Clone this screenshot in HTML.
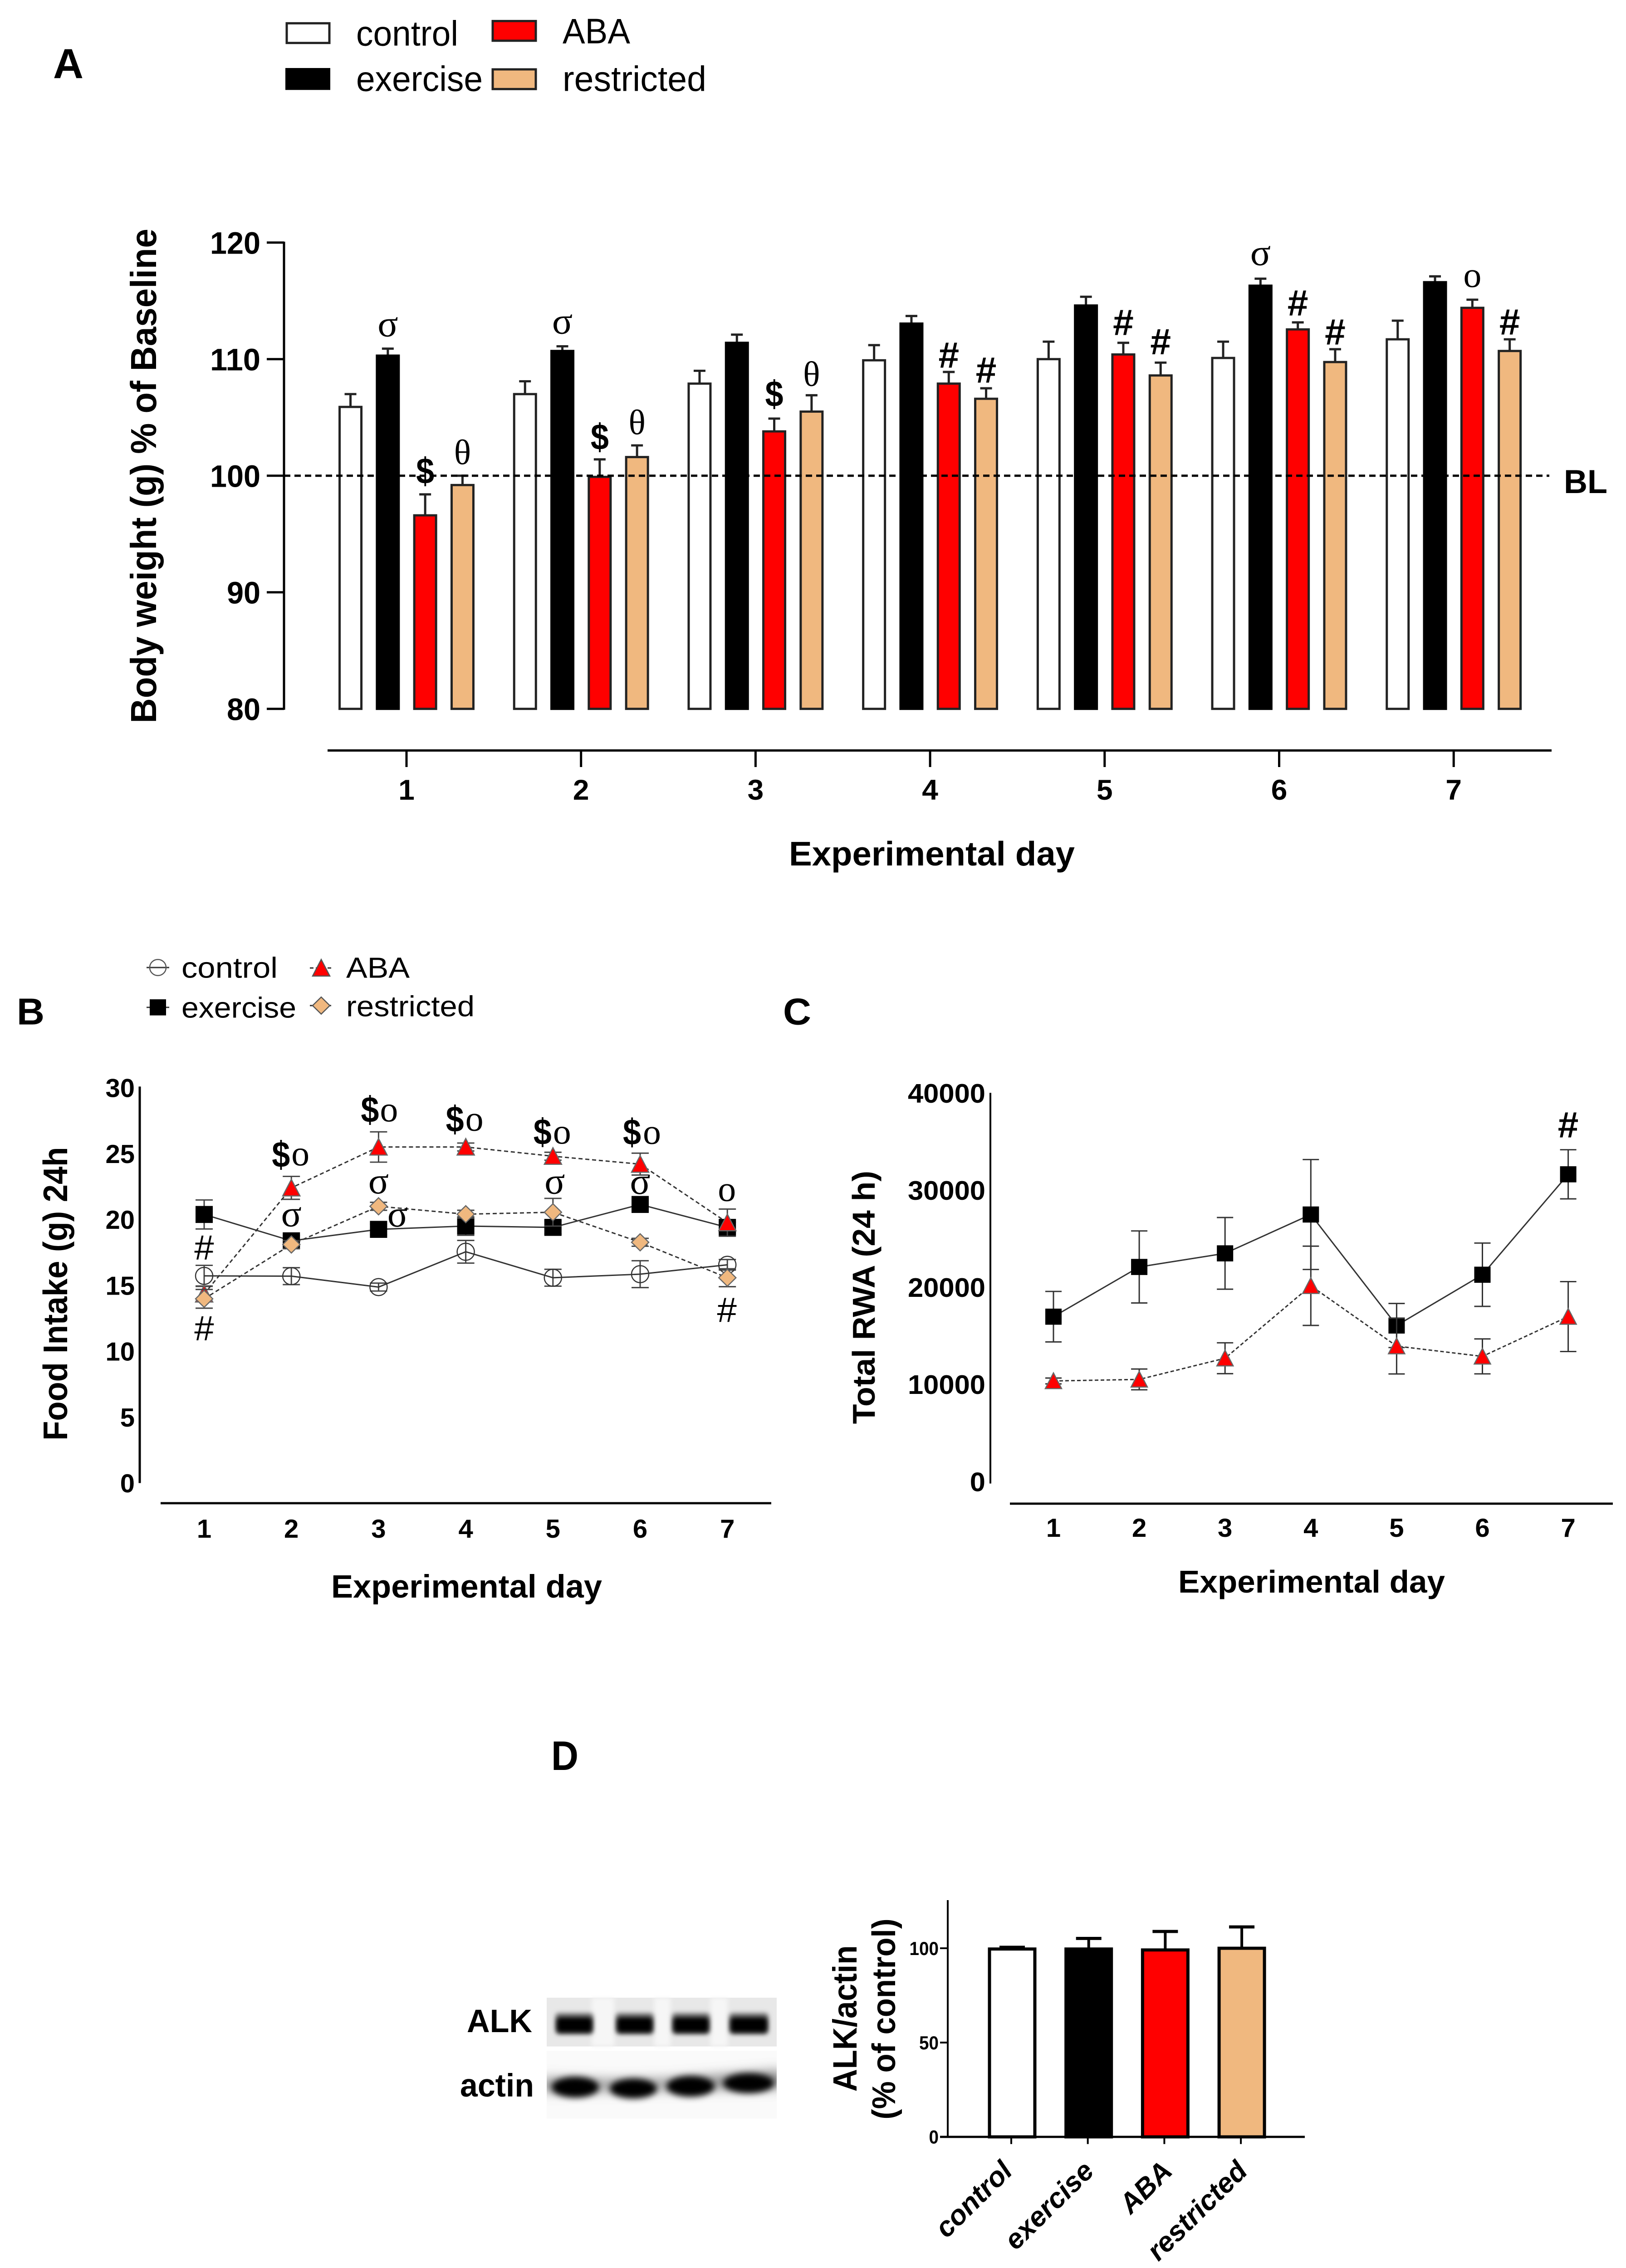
<!DOCTYPE html>
<html lang="en">
<head>
<meta charset="utf-8">
<title>Body weight, food intake, RWA and ALK figure</title>
<style>
html,body{margin:0;padding:0;background:#fff;width:100vw;height:100vh;overflow:hidden;}
svg{display:block;width:100vw;height:100vh;}
text{font-family:"Liberation Sans",sans-serif;fill:#000;}
.b{font-weight:bold;}
</style>
</head>
<body>
<svg id="figure" xmlns="http://www.w3.org/2000/svg" viewBox="0 0 3584 5068" preserveAspectRatio="none">
<defs>
<filter id="blot-blur-a" x="-30%" y="-80%" width="160%" height="260%"><feGaussianBlur stdDeviation="5"/></filter>
<filter id="blot-blur-b" x="-30%" y="-80%" width="160%" height="260%"><feGaussianBlur stdDeviation="7"/></filter>
<filter id="blot-blur-c" x="-30%" y="-100%" width="160%" height="300%"><feGaussianBlur stdDeviation="14"/></filter>
</defs>
<rect x="0" y="0" width="3584" height="5068" fill="#fff"/>

<!-- Panel A static -->
<g id="panel-a">
<text x="117" y="175" class="b" font-size="94" textLength="67" lengthAdjust="spacingAndGlyphs">A</text>
<g>
<rect x="632" y="52" width="94" height="44" fill="#fff" stroke="#222" stroke-width="5"/>
<text x="785" y="102" font-size="79" textLength="225" lengthAdjust="spacingAndGlyphs">control</text>
<rect x="629" y="152" width="99" height="49" fill="#000"/>
<text x="785" y="203" font-size="79" textLength="279" lengthAdjust="spacingAndGlyphs">exercise</text>
<rect x="1086" y="47" width="95" height="44" fill="#f00" stroke="#222" stroke-width="5"/>
<text x="1240" y="97" font-size="79" textLength="149" lengthAdjust="spacingAndGlyphs">ABA</text>
<rect x="1086" y="155" width="95" height="44" fill="#F0B87F" stroke="#222" stroke-width="5"/>
<text x="1240" y="203" font-size="79" textLength="317" lengthAdjust="spacingAndGlyphs">restricted</text>
</g>
<text transform="translate(344 1616) rotate(-90)" class="b" font-size="80" textLength="1105" lengthAdjust="spacingAndGlyphs">Body weight (g) % of Baseline</text>
<text x="1739" y="1934" class="b" font-size="76" textLength="630" lengthAdjust="spacingAndGlyphs">Experimental day</text>
<text x="3447" y="1102" class="b" font-size="74" textLength="96" lengthAdjust="spacingAndGlyphs">BL</text>
</g>

<!-- Panel B static -->
<g id="panel-b">
<text x="37" y="2289" class="b" font-size="84" textLength="61" lengthAdjust="spacingAndGlyphs">B</text>
<text x="400" y="2185" font-size="65" textLength="212" lengthAdjust="spacingAndGlyphs">control</text>
<text x="400" y="2274" font-size="65" textLength="253" lengthAdjust="spacingAndGlyphs">exercise</text>
<text x="763" y="2185" font-size="65" textLength="140" lengthAdjust="spacingAndGlyphs">ABA</text>
<text x="763" y="2271" font-size="65" textLength="283" lengthAdjust="spacingAndGlyphs">restricted</text>
<text transform="translate(148 3219) rotate(-90)" class="b" font-size="75" textLength="656" lengthAdjust="spacingAndGlyphs">Food Intake (g) 24h</text>
<text x="730" y="3570" class="b" font-size="72" textLength="597" lengthAdjust="spacingAndGlyphs">Experimental day</text>
</g>

<!-- Panel C static -->
<g id="panel-c">
<text x="1726" y="2289" class="b" font-size="84" textLength="62" lengthAdjust="spacingAndGlyphs">C</text>
<text transform="translate(1928 3182) rotate(-90)" class="b" font-size="70" textLength="566" lengthAdjust="spacingAndGlyphs">Total RWA (24 h)</text>
<text x="2597" y="3559" class="b" font-size="71" textLength="588" lengthAdjust="spacingAndGlyphs">Experimental day</text>
</g>

<!-- Panel D static -->
<g id="panel-d">
<text x="1215" y="3955" class="b" font-size="92" textLength="60" lengthAdjust="spacingAndGlyphs">D</text>
<text x="1029" y="4541" class="b" font-size="72" textLength="144" lengthAdjust="spacingAndGlyphs">ALK</text>
<text x="1014" y="4685" class="b" font-size="72" textLength="163" lengthAdjust="spacingAndGlyphs">actin</text>
<g>
<rect x="1205" y="4464" width="507" height="109" fill="#e8e8e8"/>
<rect x="1304" y="4464" width="50" height="109" fill="#f6f6f6" filter="url(#blot-blur-a)"/>
<rect x="1442" y="4464" width="36" height="109" fill="#f6f6f6" filter="url(#blot-blur-a)"/>
<rect x="1566" y="4464" width="38" height="109" fill="#f6f6f6" filter="url(#blot-blur-a)"/>
<rect x="1224" y="4498" width="84" height="48" rx="8" fill="#777" filter="url(#blot-blur-a)"/>
<rect x="1357" y="4498" width="84" height="48" rx="8" fill="#777" filter="url(#blot-blur-a)"/>
<rect x="1481" y="4498" width="84" height="48" rx="8" fill="#777" filter="url(#blot-blur-a)"/>
<rect x="1607" y="4498" width="87" height="48" rx="8" fill="#777" filter="url(#blot-blur-a)"/>
<rect x="1227" y="4508" width="78" height="34" rx="8" fill="#000" filter="url(#blot-blur-a)"/>
<rect x="1360" y="4508" width="78" height="34" rx="8" fill="#000" filter="url(#blot-blur-a)"/>
<rect x="1484" y="4508" width="78" height="34" rx="8" fill="#000" filter="url(#blot-blur-a)"/>
<rect x="1610" y="4508" width="81" height="34" rx="8" fill="#000" filter="url(#blot-blur-a)"/>
</g>
<g>
<rect x="1205" y="4583" width="507" height="151" fill="#fafafa"/>
<clipPath id="actin-clip"><rect x="1205" y="4583" width="507" height="151"/></clipPath>
<g clip-path="url(#actin-clip)">
<path d="M1195 4646 L1350 4650 L1470 4648 L1600 4638 L1725 4628 L1725 4664 L1195 4672 Z" fill="#777" filter="url(#blot-blur-c)"/>
<ellipse cx="1268" cy="4664" rx="52" ry="23" fill="#000" filter="url(#blot-blur-b)"/>
<ellipse cx="1396" cy="4667" rx="52" ry="22" fill="#000" filter="url(#blot-blur-b)"/>
<ellipse cx="1522" cy="4662" rx="53" ry="23" fill="#000" filter="url(#blot-blur-b)"/>
<ellipse cx="1650" cy="4655" rx="56" ry="22" fill="#000" filter="url(#blot-blur-b)"/>
</g>
</g>
<text transform="translate(1888 4674) rotate(-90)" class="b" font-size="74" textLength="327" lengthAdjust="spacingAndGlyphs">ALK/actin</text>
<text transform="translate(1973 4736) rotate(-90)" class="b" font-size="72" textLength="449" lengthAdjust="spacingAndGlyphs">(% of control)</text>
</g>

<script>
// ---------- Panel A data ----------
const daysA = ['1','2','3','4','5','6','7'];
const ticksA = [80,90,100,110,120];
const bwControl = [105.9,107.0,107.9,109.9,110.0,110.1,111.7];
const bwControlErr = [1.1,1.1,1.1,1.3,1.5,1.4,1.6];
const bwExercise = [110.3,110.7,111.4,113.05,114.6,116.3,116.6];
const bwExerciseErr = [0.6,0.4,0.7,0.65,0.75,0.6,0.5];
const bwAba = [96.6,99.9,103.8,107.9,110.4,112.55,114.4];
const bwAbaErr = [1.8,1.5,1.1,1.0,1.0,0.6,0.7];
const bwRestricted = [99.2,101.6,105.5,106.6,108.6,109.75,110.7];
const bwRestrictedErr = [0.8,1.0,1.4,0.9,1.1,1.1,1.0];
const baselineValue = 100;

// ---------- Panel B data ----------
const daysB = ['1','2','3','4','5','6','7'];
const ticksB = [0,5,10,15,20,25,30];
const foodControl = [15.72,15.7,14.87,17.55,15.58,15.85,16.56];
const foodControlErr = [0.8,0.64,0.3,0.86,0.64,1.02,0.4];
const foodExercise = [20.38,18.38,19.25,19.5,19.4,21.14,19.4];
const foodExerciseErr = [1.1,0.4,0.4,0.7,0.5,0.4,0.4];
const foodAba = [14.35,22.4,25.5,25.5,24.8,24.2,19.76];
const foodAbaErr = [0.6,0.87,1.15,0.3,0.3,0.83,1.03];
const foodRestricted = [13.98,18.1,21.0,20.4,20.55,18.27,15.58];
const foodRestrictedErr = [0.71,0.3,0.3,0.3,1.05,0.3,0.68];

// ---------- Panel C data ----------
const daysC = ['1','2','3','4','5','6','7'];
const ticksC = [0,10000,20000,30000,40000];
const rwaExercise = [17180,22300,23700,27700,16270,21500,31840];
const rwaExerciseErr = [2600,3710,3690,5660,2270,3260,2530];
const rwaAba = [10560,10720,12900,20360,14150,13090,17190];
const rwaAbaErr = [300,1070,1590,4080,2870,1800,3600];

// ---------- Panel D data ----------
const groupsD = ['control','exercise','ABA','restricted'];
const ticksD = [0,50,100];
const alkValues = [99.6,99.6,99.1,100];
const alkErr = [0.9,5.6,9.8,11.3];
const barFillsD = ['#fff','#000','#f00','#F0B87F'];

const SVGNS = 'http://www.w3.org/2000/svg';
const TAN = '#F0B87F';
const panelA = document.getElementById('panel-a');
const panelB = document.getElementById('panel-b');
const panelC = document.getElementById('panel-c');
const panelD = document.getElementById('panel-d');

function mk(parent, tag, attrs, txt) {
  const el = document.createElementNS(SVGNS, tag);
  for (const k in attrs) el.setAttribute(k, attrs[k]);
  if (txt !== undefined) el.textContent = txt;
  parent.appendChild(el);
  return el;
}
function shapeMarker(parent, type, cx, cy, r, fill, stroke, sw) {
  if (type === 'circle') return mk(parent, 'circle', {cx: cx, cy: cy, r: r, fill: fill, stroke: stroke, 'stroke-width': sw});
  if (type === 'square') return mk(parent, 'rect', {x: cx - r, y: cy - r, width: 2 * r, height: 2 * r, fill: fill});
  if (type === 'triangle') return mk(parent, 'polygon', {points: (cx) + ',' + (cy - r) + ' ' + (cx + r) + ',' + (cy + r * 0.95) + ' ' + (cx - r) + ',' + (cy + r * 0.95), fill: fill, stroke: stroke, 'stroke-width': sw});
  return mk(parent, 'polygon', {points: cx + ',' + (cy - r) + ' ' + (cx + r) + ',' + cy + ' ' + cx + ',' + (cy + r) + ' ' + (cx - r) + ',' + cy, fill: fill, stroke: stroke, 'stroke-width': sw});
}
function symbolText(parent, sym, cx, cy, boldHash) {
  const serif = sym === 'σ' || sym === 'θ' || sym === 'o';
  const lift = {'σ': 0.22, 'θ': 0.33, 'o': 0.22, '$': 0.35, '#': 0.36}[sym];
  const sizes = {'σ': 84, 'θ': 78, 'o': 80, '$': 82, '#': boldHash ? 82 : 78};
  const size = sizes[sym];
  const attrs = {x: cx, y: cy + lift * size, 'text-anchor': 'middle', 'font-size': size};
  if (serif) attrs.style = 'font-family:"Liberation Serif",serif';
  if (sym === '$' || (sym === '#' && boldHash)) attrs['font-weight'] = 'bold';
  if (sym === '$') { attrs.textLength = 40; attrs.lengthAdjust = 'spacingAndGlyphs'; }
  return mk(parent, 'text', attrs, sym);
}

// ========== Panel A ==========
const yA = function (v) { return 1063 + (baselineValue - v) * 26.05; };
const xA = function (i) { return 896 + i * 384.7; };
const seriesA = [
  {key: 'control', vals: bwControl, errs: bwControlErr, fill: '#fff'},
  {key: 'exercise', vals: bwExercise, errs: bwExerciseErr, fill: '#000'},
  {key: 'aba', vals: bwAba, errs: bwAbaErr, fill: '#f00'},
  {key: 'restricted', vals: bwRestricted, errs: bwRestrictedErr, fill: TAN}
];
const annotationsA = [
  {day: 0, s: 1, sym: 'σ', gap: 46}, {day: 0, s: 2, sym: '$', gap: 53}, {day: 0, s: 3, sym: 'θ', gap: 52},
  {day: 1, s: 1, sym: 'σ', gap: 47}, {day: 1, s: 2, sym: '$', gap: 51}, {day: 1, s: 3, sym: 'θ', gap: 51},
  {day: 2, s: 2, sym: '$', gap: 56}, {day: 2, s: 3, sym: 'θ', gap: 47},
  {day: 3, s: 2, sym: '#', gap: 39}, {day: 3, s: 3, sym: '#', gap: 42},
  {day: 4, s: 2, sym: '#', gap: 47}, {day: 4, s: 3, sym: '#', gap: 48},
  {day: 5, s: 1, sym: 'σ', gap: 49}, {day: 5, s: 2, sym: '#', gap: 45}, {day: 5, s: 3, sym: '#', gap: 40},
  {day: 6, s: 2, sym: 'o', gap: 46}, {day: 6, s: 3, sym: '#', gap: 40}
];
const barOffsetA = function (s) { return (s - 1.5) * 82.3; };

const yAxisA = mk(panelA, 'line', {x1: 626, y1: yA(120) - 2, x2: 626, y2: yA(80) + 2, stroke: '#000', 'stroke-width': 5});


ticksA.forEach(function (t) {
  const tick = mk(panelA, 'line', {x1: 588, y1: yA(t), x2: 626, y2: yA(t), stroke: '#000', 'stroke-width': 5});
  
  
  const lab = mk(panelA, 'text', {x: 574, y: yA(t) + 25, 'text-anchor': 'end', 'font-size': 70, 'font-weight': 'bold', textLength: 37 * String(t).length, lengthAdjust: 'spacingAndGlyphs'}, String(t));
  
  
});
seriesA.forEach(function (ser, s) {
  ser.vals.forEach(function (v, i) {
    const cx = xA(i) + barOffsetA(s);
    const top = yA(v + ser.errs[i]);
    const stem = mk(panelA, 'line', {x1: cx, y1: yA(v), x2: cx, y2: top, stroke: '#222', 'stroke-width': 5});
    
    
    const cap = mk(panelA, 'line', {x1: cx - 13, y1: top, x2: cx + 13, y2: top, stroke: '#222', 'stroke-width': 5});
    
    
    const bar = mk(panelA, 'rect', {x: cx - 24, y: yA(v), width: 48, height: yA(80) - yA(v), fill: ser.fill, stroke: s === 1 ? '#000' : '#222', 'stroke-width': 5});
    
    
  });
});
const baselineA = mk(panelA, 'line', {x1: 626, y1: yA(baselineValue), x2: 3415, y2: yA(baselineValue), stroke: '#000', 'stroke-width': 5, 'stroke-dasharray': '14 9'});


const xAxisA = mk(panelA, 'line', {x1: 722, y1: 1677, x2: 3420, y2: 1677, stroke: '#000', 'stroke-width': 5});


daysA.forEach(function (d, i) {
  const tick = mk(panelA, 'line', {x1: xA(i), y1: 1677, x2: xA(i), y2: 1714, stroke: '#000', 'stroke-width': 5});
  
  
  const lab = mk(panelA, 'text', {x: xA(i), y: 1787, 'text-anchor': 'middle', 'font-size': 64, 'font-weight': 'bold'}, d);
  
  
});
annotationsA.forEach(function (a) {
  const ser = seriesA[a.s];
  const cx = xA(a.day) + barOffsetA(a.s);
  const cy = yA(ser.vals[a.day] + ser.errs[a.day]) - a.gap;
  const t = symbolText(panelA, a.sym, cx, cy, true);
  
  
});

// ========== Panel B ==========
const yB = function (v) { return 3314 - v * 29.45; };
const xB = function (i) { return 450 + i * 192.2; };
const seriesB = [
  {key: 'control', vals: foodControl, errs: foodControlErr, type: 'circle', fill: 'none', stroke: '#333', dash: null},
  {key: 'exercise', vals: foodExercise, errs: foodExerciseErr, type: 'square', fill: '#000', stroke: '#333', dash: null},
  {key: 'aba', vals: foodAba, errs: foodAbaErr, type: 'triangle', fill: '#f00', stroke: '#555', dash: '9 6'},
  {key: 'restricted', vals: foodRestricted, errs: foodRestrictedErr, type: 'diamond', fill: TAN, stroke: '#555', dash: '9 6'}
];
const annotationsB = [
  {day: 1, s: 2, sym: '$', dx: -23, dy: -75}, {day: 1, s: 2, sym: 'o', dx: 20, dy: -68},
  {day: 2, s: 2, sym: '$', dx: -19, dy: -84}, {day: 2, s: 2, sym: 'o', dx: 23, dy: -75},
  {day: 3, s: 2, sym: '$', dx: -24, dy: -63}, {day: 3, s: 2, sym: 'o', dx: 19, dy: -54},
  {day: 4, s: 2, sym: '$', dx: -23, dy: -55}, {day: 4, s: 2, sym: 'o', dx: 20, dy: -46},
  {day: 5, s: 2, sym: '$', dx: -18, dy: -72}, {day: 5, s: 2, sym: 'o', dx: 26, dy: -63},
  {day: 6, s: 2, sym: 'o', dx: -1, dy: -66},
  {day: 1, s: 1, sym: 'σ', dx: 0, dy: -51}, {day: 2, s: 1, sym: 'σ', dx: 42, dy: -25},
  {day: 2, s: 3, sym: 'σ', dx: 0, dy: -47}, {day: 4, s: 3, sym: 'σ', dx: 4, dy: -60},
  {day: 5, s: 1, sym: 'σ', dx: 0, dy: -42},
  {day: 0, s: 1, sym: '#', dx: 0, dy: 73}, {day: 0, s: 3, sym: '#', dx: 0, dy: 65},
  {day: 6, s: 3, sym: '#', dx: -1, dy: 71}
];

const legB = [
  {key: 'control', type: 'circle', fill: 'none', x: 348, y: 2162, r: 18},
  {key: 'exercise', type: 'square', fill: '#000', x: 348, y: 2251, r: 18},
  {key: 'aba', type: 'triangle', fill: '#f00', x: 708, y: 2163, r: 19},
  {key: 'restricted', type: 'diamond', fill: TAN, x: 708, y: 2247, r: 19}
];
legB.forEach(function (l) {
  const ln = mk(panelB, 'line', {x1: l.x - 25, y1: l.y, x2: l.x + 25, y2: l.y, stroke: '#333', 'stroke-width': 3, 'stroke-dasharray': l.key === 'aba' || l.key === 'restricted' ? '8 5' : 'none'});
  
  
  const m = shapeMarker(panelB, l.type, l.x, l.y, l.r, l.fill, '#555', 2.5);
  
  
});
const yAxisB = mk(panelB, 'line', {x1: 308, y1: 2428, x2: 308, y2: yB(0), stroke: '#000', 'stroke-width': 5});


ticksB.forEach(function (t) {
  const lab = mk(panelB, 'text', {x: 297, y: yB(t) + 21, 'text-anchor': 'end', 'font-size': 58, 'font-weight': 'bold'}, String(t));
  
  
});
const xAxisB = mk(panelB, 'line', {x1: 354, y1: 3359, x2: 1700, y2: 3359, stroke: '#000', 'stroke-width': 5});


daysB.forEach(function (d, i) {
  const lab = mk(panelB, 'text', {x: xB(i), y: 3436, 'text-anchor': 'middle', 'font-size': 58, 'font-weight': 'bold'}, d);
  
  
});
seriesB.forEach(function (ser) {
  ser.vals.forEach(function (v, i) {
    const x = xB(i);
    const hi = yB(v + ser.errs[i]);
    const lo = yB(v - ser.errs[i]);
    const e = mk(panelB, 'path', {d: 'M' + (x - 19) + ' ' + hi + 'H' + (x + 19) + 'M' + x + ' ' + hi + 'V' + lo + 'M' + (x - 19) + ' ' + lo + 'H' + (x + 19), fill: 'none', stroke: '#444', 'stroke-width': 3});
    
    
  });
  const pts = ser.vals.map(function (v, i) { return xB(i) + ',' + yB(v); }).join(' ');
  const lineAttrs = {points: pts, fill: 'none', stroke: '#333', 'stroke-width': 3};
  if (ser.dash) lineAttrs['stroke-dasharray'] = ser.dash;
  const pl = mk(panelB, 'polyline', lineAttrs);
  
  
  ser.vals.forEach(function (v, i) {
    const m = shapeMarker(panelB, ser.type, xB(i), yB(v), 19, ser.fill, ser.type === 'circle' ? '#333' : '#666', 2.5);
    
    
  });
});
annotationsB.forEach(function (a) {
  const t = symbolText(panelB, a.sym, xB(a.day) + a.dx, yB(seriesB[a.s].vals[a.day]) + a.dy, false);
  
  
});

// ========== Panel C ==========
const yC = function (v) { return 3315 - v * 0.0217; };
const xC = function (i) { return 2322 + i * 189.1; };
const seriesC = [
  {key: 'exercise', vals: rwaExercise, errs: rwaExerciseErr, type: 'square', fill: '#000', dash: null},
  {key: 'aba', vals: rwaAba, errs: rwaAbaErr, type: 'triangle', fill: '#f00', dash: '8 5'}
];
const yAxisC = mk(panelC, 'line', {x1: 2183, y1: 2442, x2: 2183, y2: yC(0), stroke: '#000', 'stroke-width': 4});


ticksC.forEach(function (t) {
  const s = String(t);
  const lab = mk(panelC, 'text', {x: 2172, y: yC(t) + 17, 'text-anchor': 'end', 'font-size': 60, 'font-weight': 'bold', textLength: 34.2 * s.length, lengthAdjust: 'spacingAndGlyphs'}, s);
  
  
});
const xAxisC = mk(panelC, 'line', {x1: 2226, y1: 3360, x2: 3555, y2: 3360, stroke: '#000', 'stroke-width': 5});


daysC.forEach(function (d, i) {
  const lab = mk(panelC, 'text', {x: xC(i), y: 3434, 'text-anchor': 'middle', 'font-size': 58, 'font-weight': 'bold'}, d);
  
  
});
seriesC.forEach(function (ser) {
  ser.vals.forEach(function (v, i) {
    const x = xC(i);
    const hi = yC(v + ser.errs[i]);
    const lo = yC(v - ser.errs[i]);
    const e = mk(panelC, 'path', {d: 'M' + (x - 18) + ' ' + hi + 'H' + (x + 18) + 'M' + x + ' ' + hi + 'V' + lo + 'M' + (x - 18) + ' ' + lo + 'H' + (x + 18), fill: 'none', stroke: '#333', 'stroke-width': 3});
    
    
  });
  const pts = ser.vals.map(function (v, i) { return xC(i) + ',' + yC(v); }).join(' ');
  const lineAttrs = {points: pts, fill: 'none', stroke: '#333', 'stroke-width': 3};
  if (ser.dash) lineAttrs['stroke-dasharray'] = ser.dash;
  const pl = mk(panelC, 'polyline', lineAttrs);
  
  
  ser.vals.forEach(function (v, i) {
    const m = shapeMarker(panelC, ser.type, xC(i), yC(v), 18, ser.fill, '#666', 2.5);
    
    
  });
});
const hashC = symbolText(panelC, '#', xC(6), yC(rwaExercise[6]) - 112, true);



// ========== Panel D ==========
const yD = function (v) { return 4775 - v * 4.215; };
const xD = function (i) { return 2229 + i * 168.7; };
const labelNudgeD = [6, 17, 21, 18];
const yAxisD = mk(panelD, 'line', {x1: 2089, y1: 4246, x2: 2089, y2: 4775, stroke: '#000', 'stroke-width': 4});


ticksD.forEach(function (t) {
  const tick = mk(panelD, 'line', {x1: 2072, y1: yD(t), x2: 2089, y2: yD(t), stroke: '#000', 'stroke-width': 4});
  
  
  const lab = mk(panelD, 'text', {x: 2069, y: yD(t) + 15, 'text-anchor': 'end', 'font-size': 42, 'font-weight': 'bold', textLength: 21.5 * String(t).length, lengthAdjust: 'spacingAndGlyphs'}, String(t));
  
  
});
alkValues.forEach(function (v, i) {
  const cx = xD(i) + 2;
  const top = yD(v + alkErr[i]);
  const stem = mk(panelD, 'line', {x1: cx, y1: yD(v), x2: cx, y2: top, stroke: '#000', 'stroke-width': 6});
  
  
  const cap = mk(panelD, 'line', {x1: cx - 28, y1: top, x2: cx + 28, y2: top, stroke: '#000', 'stroke-width': 7});
  
  
  const bar = mk(panelD, 'rect', {x: cx - 50, y: yD(v), width: 100, height: yD(0) - yD(v), fill: barFillsD[i], stroke: '#000', 'stroke-width': 7});
  
  
});
const xAxisD = mk(panelD, 'line', {x1: 2072, y1: 4775, x2: 2876, y2: 4775, stroke: '#000', 'stroke-width': 5});


groupsD.forEach(function (g, i) {
  const tick = mk(panelD, 'line', {x1: xD(i), y1: 4775, x2: xD(i), y2: 4791, stroke: '#000', 'stroke-width': 4});
  
  
  const px = xD(i) + labelNudgeD[i];
  const lab = mk(panelD, 'text', {x: px, y: 4855, transform: 'rotate(-45 ' + px + ' 4855)', 'text-anchor': 'end', 'font-size': 62, 'font-weight': 'bold', 'font-style': 'italic'}, g);
  
  
});
</script>
</svg>
</body>
</html>
